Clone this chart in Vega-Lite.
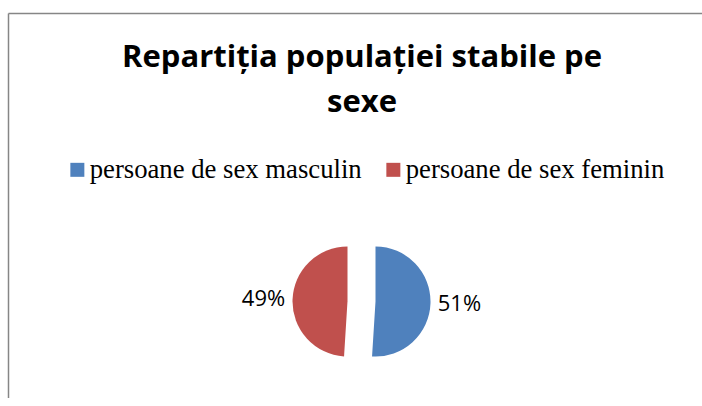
{
  "$schema": "https://vega.github.io/schema/vega-lite/v6.json",
  "usermeta": {"embedOptions": {"actions": false}},
  "width": 694,
  "height": 385,
  "autosize": {"type": "none"},
  "padding": {"left": 8, "top": 13, "right": 0, "bottom": 0},
  "background": "white",
  "view": {"stroke": null, "fill": "white"},
  "title": {
    "text": ["Repartiția populației stabile pe", "sexe"],
    "font": "Open Sans",
    "fontSize": 31,
    "fontWeight": "bold",
    "color": "black",
    "anchor": "middle",
    "frame": "group",
    "orient": "top",
    "lineHeight": 45,
    "offset": -106,
    "dx": 7
  },
  "data": {
    "values": [
      {"sex": "persoane de sex masculin", "pct": 0.51},
      {"sex": "persoane de sex feminin", "pct": 0.49}
    ]
  },
  "layer": [
    {
      "mark": {"type": "point", "opacity": 0},
      "encoding": {
        "x": {
          "field": "pct",
          "type": "quantitative",
          "scale": {"domain": [0, 1]},
          "axis": {"orient": "top", "labels": false, "ticks": false, "grid": false, "title": null, "domainColor": "#868686", "domainWidth": 1.5, "offset": 0}
        },
        "y": {
          "field": "pct",
          "type": "quantitative",
          "scale": {"domain": [0, 1]},
          "axis": {"orient": "left", "labels": false, "ticks": false, "grid": false, "title": null, "domainColor": "#868686", "domainWidth": 1.5, "offset": 0}
        }
      }
    },
    {
      "mark": {
        "type": "arc",
        "outerRadius": 55,
        "yOffset": 96,
        "xOffset": {"expr": "datum.sex == 'persoane de sex masculin' ? 20.5 : -7.5"}
      },
      "encoding": {
        "theta": {"field": "pct", "type": "quantitative", "stack": true},
        "order": {"field": "sex", "sort": "descending"},
        "color": {
          "field": "sex",
          "type": "nominal",
          "scale": {
            "domain": ["persoane de sex masculin", "persoane de sex feminin"],
            "range": ["#4F81BD", "#C0504D"]
          },
          "legend": {
            "orient": "none",
            "legendX": 56,
            "legendY": 143,
            "direction": "horizontal",
            "title": null,
            "symbolType": "square",
            "symbolSize": 196,
            "symbolStrokeWidth": 0,
            "labelFont": "Liberation Serif",
            "labelFontSize": 26.7,
            "labelColor": "black",
            "labelOffset": -1,
            "labelLimit": 0,
            "columnPadding": 18
          }
        }
      }
    },
    {
      "mark": {
        "type": "text",
        "radius": 84,
        "font": "Open Sans",
        "fontSize": 22,
        "color": "black",
        "yOffset": 96,
        "xOffset": {"expr": "datum.sex == 'persoane de sex masculin' ? 20.5 : -7.5"}
      },
      "encoding": {
        "theta": {"field": "pct", "type": "quantitative", "stack": true},
        "order": {"field": "sex", "sort": "descending"},
        "text": {"field": "pct", "type": "quantitative", "format": ".0%"}
      }
    }
  ]
}
